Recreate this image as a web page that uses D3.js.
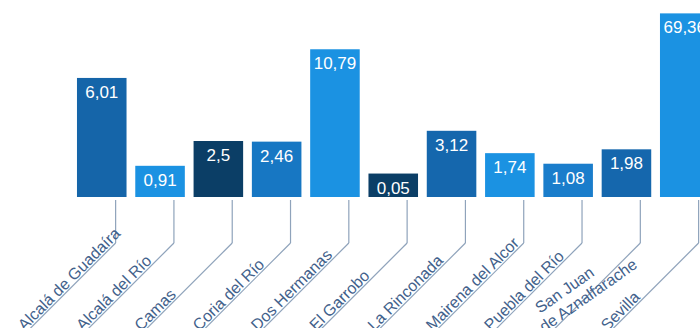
<!DOCTYPE html>
<html>
<head>
<meta charset="utf-8">
<script src="https://cdn.jsdelivr.net/npm/d3@7"></script>
<style>
  html, body { margin: 0; padding: 0; background: #fff; }
  svg { display: block; }
</style>
</head>
<body>
<svg id="chart"></svg>
<script>
const categories = ["Alcalá de Guadaíra", "Alcalá del Río", "Camas", "Coria del Río", "Dos Hermanas",
  "El Garrobo", "La Rinconada", "Mairena del Alcor", "Puebla del Río", "San Juan de Aznalfarache", "Sevilla"];
const values = [6.01, 0.91, 2.5, 2.46, 10.79, 0.05, 3.12, 1.74, 1.08, 1.98, 69.36];
const labelLines = [["Alcalá de Guadaíra"], ["Alcalá del Río"], ["Camas"], ["Coria del Río"], ["Dos Hermanas"],
  ["El Garrobo"], ["La Rinconada"], ["Mairena del Alcor"], ["Puebla del Río"], ["San Juan", "de Aznalfarache"], ["Sevilla"]];
// bars in the picture aren't to scale -> broken (polylinear) scale
const scaleBreaks = [0, 1, 3, 6, 11, 70];

const width = 700, height = 328;
const baseY = 197;
const font = "'Liberation Sans', Arial, sans-serif";

const data = categories.map((c, i) => ({ name: c, value: values[i], lines: labelLines[i] }));

const svg = d3.select("#chart").attr("width", width).attr("height", height);

const x = d3.scaleBand()
  .domain(categories)
  .range([72.6, 713.9])
  .paddingInner(0.15)
  .paddingOuter(0.075);

const y = d3.scaleLinear()
  .domain(scaleBreaks)
  .range([174, 165, 133, 78, 48, 13]);

const color = d3.scaleOrdinal()
  .domain(categories)
  .range(["#1565a9", "#1b92e2", "#0b3e66", "#1777c3", "#1b92e2", "#0b3e66",
    "#1567ad", "#1b92e2", "#1a7dcb", "#1567ad", "#1b92e2"]);

const fmt = v => String(v).replace(".", ",");

svg.append("g")
  .selectAll("rect")
  .data(data)
  .join("rect")
  .attr("x", d => x(d.name))
  .attr("y", d => y(d.value))
  .attr("width", x.bandwidth())
  .attr("height", d => baseY - y(d.value))
  .attr("fill", d => color(d.name));

svg.append("g")
  .selectAll("text")
  .data(data)
  .join("text")
  .attr("x", d => x(d.name) + x.bandwidth() / 2)
  .attr("y", d => y(d.value) + 20)
  .attr("text-anchor", "middle")
  .attr("fill", "#fff")
  .style("font-family", font)
  .style("font-size", "17px")
  .text(d => fmt(d.value));

// leader lines + rotated labels
const cornerY = 243;
const leadX = d => x(d.name) + x.bandwidth() * 0.78;

const leaders = svg.append("g")
  .selectAll("g")
  .data(data)
  .join("g")
  .attr("transform", d => `translate(${leadX(d)},${cornerY})`);

leaders.append("line")
  .attr("x1", 0).attr("x2", 0)
  .attr("y1", baseY + 3 - cornerY)
  .attr("y2", 0)
  .attr("stroke", "#8fa3bb")
  .attr("stroke-width", 1.2);

leaders.append("line")
  .attr("x1", 0).attr("y1", 0)
  .attr("x2", -100).attr("y2", 100)
  .attr("stroke", "#8fa3bb")
  .attr("stroke-width", 1.2);

leaders.each(function (d) {
  const g = d3.select(this);
  if (d.lines.length === 1) {
    g.append("text")
      .attr("transform", "rotate(-45)")
      .attr("x", -127)
      .attr("y", -2)
      .attr("fill", "#42618b")
      .style("font-family", font)
      .style("font-size", "16px")
      .text(d.lines[0]);
  } else {
    // two-line label sits a bit flatter, either side of its leader
    const ends = [[-45, 32], [-2, 24]];
    d.lines.forEach((t, j) => {
      g.append("text")
        .attr("transform", `translate(${ends[j][0]},${ends[j][1]}) rotate(-35)`)
        .attr("text-anchor", "end")
        .attr("fill", "#42618b")
        .style("font-family", font)
        .style("font-size", "16px")
        .text(t);
    });
  }
});
</script>
</body>
</html>
